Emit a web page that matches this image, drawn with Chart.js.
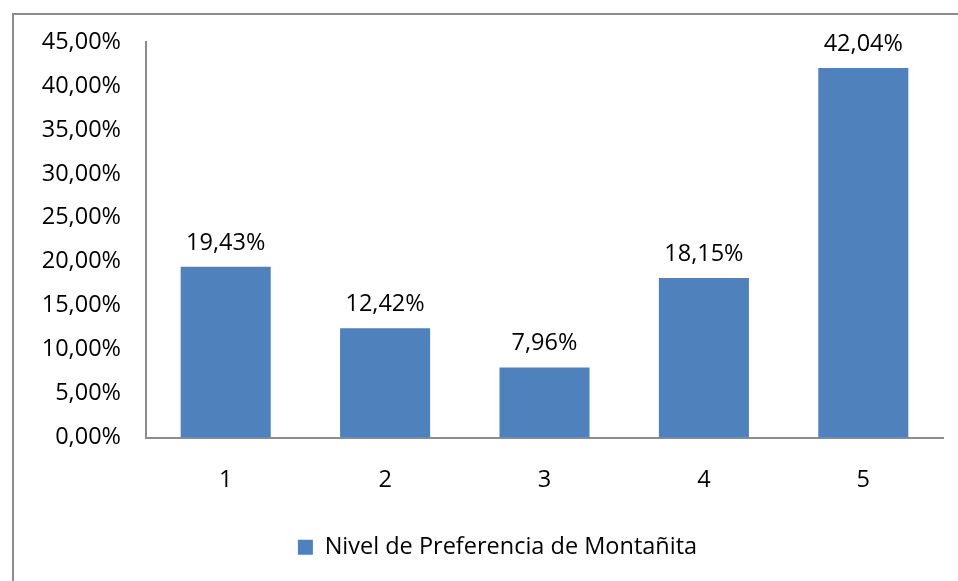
<!DOCTYPE html>
<html>
<head>
<meta charset="utf-8">
<script src="https://cdn.jsdelivr.net/npm/chart.js@4/dist/chart.umd.min.js"></script>
<style>
  html, body { margin: 0; padding: 0; background: #fff; overflow: hidden; }
  #frame { position: absolute; left: 12px; top: 13px; width: 1000px; height: 700px;
           border-left: 2px solid #8c8c8c; border-top: 2px solid #8c8c8c; }
  #wrap { position: absolute; left: 0; top: 0; width: 958px; height: 581px; }
</style>
</head>
<body>
<div id="frame"></div>
<div id="wrap"><canvas id="c"></canvas></div>
<script>
  // values
  const categories = ["1", "2", "3", "4", "5"];
  const seriesName = "Nivel de Preferencia de Montañita";
  const values = [19.43, 12.42, 7.96, 18.15, 42.04];
  const yTicks = [0, 5, 10, 15, 20, 25, 30, 35, 40, 45];

  const FONT = "'Open Sans', sans-serif";
  const FS = 23.5;
  const pct = (v) => v.toFixed(2).replace(".", ",") + "%";

  // draw value labels above each bar
  const barLabels = {
    id: "barLabels",
    afterDatasetsDraw(chart) {
      const ctx = chart.ctx;
      ctx.save();
      ctx.font = FS + "px " + FONT;
      ctx.fillStyle = "#000";
      ctx.textAlign = "center";
      ctx.textBaseline = "bottom";
      chart.getDatasetMeta(0).data.forEach((bar, i) => {
        ctx.fillText(pct(values[i]), bar.x, bar.y - 12);
      });
      ctx.restore();
    }
  };

  // legend sits a bit right of the canvas centre in the original
  const legendShift = {
    id: "legendShift",
    afterLayout(chart) {
      const lg = chart.legend;
      if (!lg) return;
      lg.left += 26; lg.right += 26;
      if (lg.adjustHitBoxes) lg.adjustHitBoxes();
    }
  };

  new Chart(document.getElementById("c"), {
    type: "bar",
    data: {
      labels: categories,
      datasets: [{
        label: seriesName,
        data: values,
        backgroundColor: "#4F81BD",
        borderWidth: 0,
        categoryPercentage: 1,
        barPercentage: 0.565
      }]
    },
    options: {
      responsive: true, maintainAspectRatio: false, animation: false,
      layout: { padding: { top: 42, right: 15, bottom: 12, left: 0 } },
      plugins: {
        tooltip: { enabled: false },
        legend: {
          position: "bottom",
          labels: { color: "#000", font: { family: FONT, size: FS },
                    boxWidth: 15, boxHeight: 15, padding: 10 }
        }
      },
      scales: {
        x: {
          grid: { display: false, drawTicks: false },
          border: { display: true, color: "#8c8c8c", width: 2 },
          ticks: { color: "#000", font: { family: FONT, size: FS }, padding: 29 },
          afterFit: (s) => { s.height = 88; }
        },
        y: {
          min: 0, max: 45,
          afterBuildTicks: (s) => { s.ticks = yTicks.map((v) => ({ value: v })); },
          grid: { display: false, drawTicks: false },
          border: { display: true, color: "#8c8c8c", width: 2 },
          ticks: { color: "#000", font: { family: FONT, size: FS }, padding: 25,
                   callback: (v) => pct(v) },
          afterFit: (s) => { s.width = 146; }
        }
      }
    },
    plugins: [barLabels, legendShift]
  });
</script>
</body>
</html>
